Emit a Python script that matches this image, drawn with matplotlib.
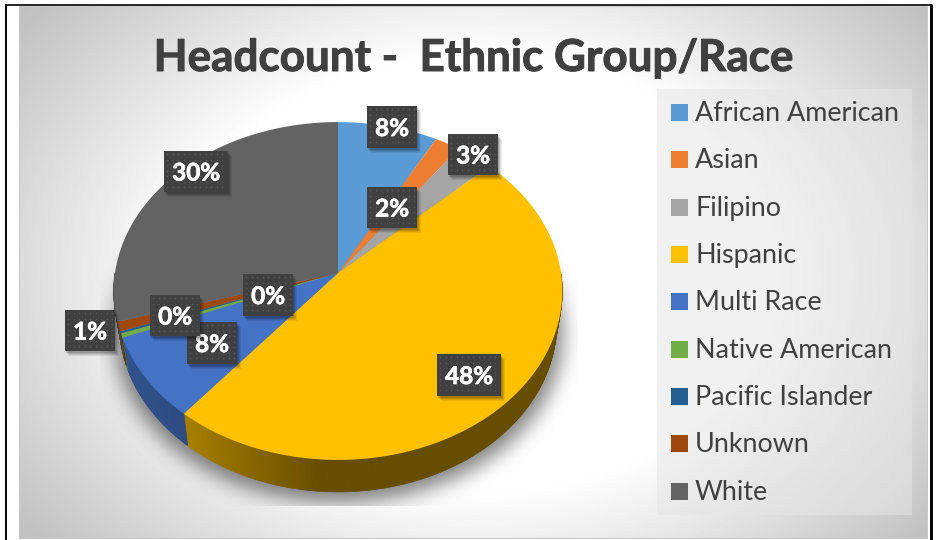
import numpy as np
import matplotlib
matplotlib.use("Agg")
import matplotlib.pyplot as plt
import matplotlib.patheffects as pe
from matplotlib.patches import Polygon, Rectangle
from matplotlib.path import Path

categories = ["African American", "Asian", "Filipino", "Hispanic", "Multi Race",
              "Native American", "Pacific Islander", "Unknown", "White"]
values = [8.0, 2.0, 3.0, 48.0, 8.0, 0.4, 0.2, 0.9, 29.6]
colors = ["#5B9BD5", "#ED7D31", "#A5A5A5", "#FFC000", "#4472C4",
          "#70AD47", "#255E91", "#9E480E", "#636363"]
title = "Headcount -  Ethnic Group/Race"

# where the data labels sit: left, top, right, bottom in pixels
label_boxes = [(367, 106, 417, 148), (367, 187, 417, 228), (448, 134, 498, 175),
               (437, 354, 501, 396), (187, 322, 237, 364), (243, 274, 293, 316),
               (150, 295, 200, 336), (65, 310, 115, 351), (164, 151, 228, 192)]
legend_y = [112, 159, 207, 254, 301, 349, 396, 443, 491]

W, H = 936, 540
CX, CY = 338, 273
A, B, P = 223, 167, 0.1065
DEPTH = 32
BOTTOM_SCALE = 0.975


def project(frac):
    # pie fraction (clockwise from 12 o'clock) to pixels, with a bit of perspective
    t = 2 * np.pi * np.asarray(frac)
    u, v = np.sin(t), np.cos(t)
    w = 1 + P * v
    return CX + A * u / w, CY - B * v / w


def lower_rim(x, y):
    return CX + (x - CX) * BOTTOM_SCALE, y + DEPTH


def blur(img, sigma):
    n = int(3 * sigma)
    kernel = np.exp(-0.5 * (np.arange(-n, n + 1) / sigma) ** 2)
    kernel /= kernel.sum()
    img = np.apply_along_axis(lambda r: np.convolve(r, kernel, mode="same"), 0, img)
    return np.apply_along_axis(lambda r: np.convolve(r, kernel, mode="same"), 1, img)


def side_shade(x):
    # side wall goes from lit on the left to flat dark on the right
    return np.interp(x, [113, 185, 320, 562], [0.72, 0.66, 0.40, 0.40])


def draw_background(ax):
    yy, xx = np.mgrid[0:H, 0:W]
    r = np.hypot((xx - 473) / 560, (yy - 272) / 400)
    level = np.interp(r, [0.0, 0.55, 1.05, 1.3], [1.0, 1.0, 0.76, 0.72])
    ax.imshow(level, extent=(19, 927, 538, 6), cmap="gray", vmin=0, vmax=1,
              aspect="auto", zorder=0, interpolation="bilinear")
    ax.add_patch(Rectangle((19, 6), 908, 532, fill=False, ec="#c8c8c8", lw=0.8, zorder=1))


def draw_shadow(ax):
    fr = np.linspace(0, 1, 361)
    x, y = project(fr)
    mask_path = Path(np.column_stack([x, y + DEPTH + 10]))
    yy, xx = np.mgrid[0:H, 0:W]
    inside = mask_path.contains_points(np.column_stack([xx.ravel(), yy.ravel()]))
    mask = blur(inside.reshape(H, W).astype(float), 10)
    # the chart clips the shadow to its plot area
    mask[(yy > 505) | (xx < 100) | (xx > 577)] = 0
    rgba = np.zeros((H, W, 4))
    rgba[..., 3] = mask * 0.5
    ax.imshow(rgba, extent=(0, W, H, 0), aspect="auto", zorder=2)


def draw_pie(ax):
    edges = np.cumsum([0] + values) / sum(values)
    for lo, hi, col in zip(edges[:-1], edges[1:], colors):
        base = np.array(matplotlib.colors.to_rgb(col))
        n = max(int((hi - lo) * 720), 2)
        fr = np.linspace(lo, hi, n + 1)
        x, y = project(fr)
        bx, by = lower_rim(x, y)
        for i in range(n):
            # only the front of the wall shows
            if np.cos(2 * np.pi * fr[i]) > 0.0:
                continue
            shade = side_shade((x[i] + x[i + 1]) / 2)
            quad = [(x[i], y[i]), (x[i + 1], y[i + 1]), (bx[i + 1], by[i + 1]), (bx[i], by[i])]
            ax.add_patch(Polygon(quad, fc=base * shade, ec=base * shade, lw=0.5, zorder=3))
    for lo, hi, col in zip(edges[:-1], edges[1:], colors):
        fr = np.linspace(lo, hi, max(int((hi - lo) * 720), 2) + 1)
        x, y = project(fr)
        pts = [(CX, CY)] + list(zip(x, y))
        ax.add_patch(Polygon(pts, fc=col, ec="none", zorder=4))


def draw_label(ax, text, box, z):
    l, t, r, b = box
    # soft drop shadow
    for off, alpha in ((5, 0.07), (4, 0.09), (3, 0.11), (2, 0.13)):
        ax.add_patch(Rectangle((l + off - 1, t + off), r - l, b - t, fc="black", ec="none",
                               alpha=alpha, zorder=z))
    ax.add_patch(Rectangle((l, t), r - l, b - t, fc="#404040", ec="none", zorder=z + 0.1))
    dx, dy = np.meshgrid(np.arange(l + 3, r - 1, 5.5), np.arange(t + 3, b - 1, 5.5))
    ax.scatter(dx.ravel(), dy.ravel(), s=1.6, c="#565656", linewidths=0, zorder=z + 0.2)
    ax.text((l + r) / 2, (t + b) / 2 + 9, text, color="white", fontsize=17.5, fontweight="bold",
            ha="center", va="baseline", zorder=z + 0.3,
            path_effects=[pe.withStroke(linewidth=0.5, foreground="white")])


def draw_legend(ax):
    ax.add_patch(Rectangle((657, 89), 255, 426, fc="#e6e6e6", ec="none", alpha=0.55, zorder=5))
    for name, col, y in zip(categories, colors, legend_y):
        ax.add_patch(Rectangle((671, y - 8), 17, 17, fc=col, ec="none", zorder=6))
        ax.text(695, y + 9, name, color="#404040", fontsize=19.4, va="baseline", ha="left", zorder=6)


plt.rcParams["font.family"] = ["Lato", "DejaVu Sans"]
fig = plt.figure(figsize=(W / 100, H / 100), dpi=100, facecolor="white")
ax = fig.add_axes([0, 0, 1, 1])

draw_background(ax)
draw_shadow(ax)
draw_pie(ax)
draw_legend(ax)

for n, box in enumerate(label_boxes):
    pct = "%.0f%%" % (100 * values[n] / sum(values))
    draw_label(ax, pct, box, 10 + n)

ax.text(473, 71, title, color="#404040", fontsize=31.7, fontweight="bold",
        ha="center", va="baseline", zorder=6,
        path_effects=[pe.withStroke(linewidth=0.7, foreground="#404040")])

# page table rules around the chart
ax.plot([6, 6], [4, 540], color="black", lw=1.4, solid_capstyle="butt", zorder=20)
ax.plot([5, 932], [4.8, 4.8], color="black", lw=1.2, solid_capstyle="butt", zorder=20)
ax.plot([930.5, 930.5], [4, 540], color="black", lw=2.1, solid_capstyle="butt", zorder=20)

ax.set_xlim(0, W)
ax.set_ylim(H, 0)
ax.axis("off")
fig.savefig("out.png", dpi=100)
